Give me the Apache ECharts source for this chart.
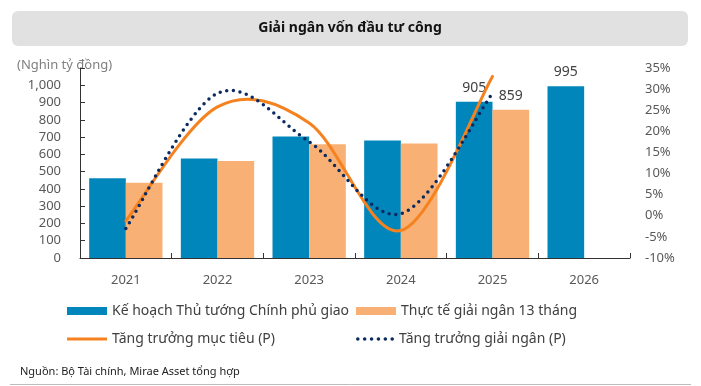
<!DOCTYPE html>
<html>
<head>
<meta charset="utf-8">
<script src="https://cdn.jsdelivr.net/npm/echarts@6/dist/echarts.min.js"></script>
<style>html,body{margin:0;padding:0;background:#fff;}#c{width:701px;height:386px;}</style>
</head>
<body>
<div id="c"></div>
<script>
const categories = ['2021', '2022', '2023', '2024', '2025', '2026'];
const planValues = [461, 576, 703, 680, 905, 995];
const actualValues = [435, 562, 659, 663, 859, null];
const targetGrowth = [-1.2, 25.8, 22, -3.5, 33, null];
const disburseGrowth = [-3, 29, 17.5, 0.5, 29, null];
const labelledYears = ['2025', '2026'];
const seriesNames = ['Kế hoạch Thủ tướng Chính phủ giao', 'Thực tế giải ngân 13 tháng', 'Tăng trưởng mục tiêu (P)', 'Tăng trưởng giải ngân (P)'];

const FONT = '"Noto Sans", "Open Sans", sans-serif';
const TXT = '#404040';
const ORANGE = '#F5821F';
const NAVY = '#0B2A5F';

function withLabels(arr) {
  return arr.map((v, i) => ({
    value: v,
    label: { show: labelledYears.includes(categories[i]) && v != null }
  }));
}

// Excel-style smoothed line (Catmull-Rom -> cubic Bezier), positioned through the axis scales
function smoothRenderer(values, style) {
  return function (params, api) {
    if (params.dataIndex !== 0) return null;
    const pts = [];
    values.forEach((v, i) => { if (v != null) pts.push(api.coord([i, v])); });
    if (pts.length < 2) return null;
    let d = 'M' + pts[0][0] + ',' + pts[0][1];
    for (let i = 0; i < pts.length - 1; i++) {
      const p0 = pts[Math.max(i - 1, 0)], p1 = pts[i], p2 = pts[i + 1], p3 = pts[Math.min(i + 2, pts.length - 1)];
      const c1x = p1[0] + (p2[0] - p0[0]) / 6, c1y = p1[1] + (p2[1] - p0[1]) / 6;
      const c2x = p2[0] - (p3[0] - p1[0]) / 6, c2y = p2[1] - (p3[1] - p1[1]) / 6;
      d += ' C' + c1x + ',' + c1y + ' ' + c2x + ',' + c2y + ' ' + p2[0] + ',' + p2[1];
    }
    return { type: 'path', shape: { pathData: d }, style: Object.assign({ fill: null }, style), silent: true };
  };
}

function dotsIcon(n, r, span) {
  let d = '';
  const step = (span - 2 * r) / (n - 1);
  for (let k = 0; k < n; k++) {
    const cx = r + k * step;
    d += 'M' + (cx - r) + ',' + r + ' a' + r + ',' + r + ' 0 1,0 ' + (2 * r) + ',0 a' + r + ',' + r + ' 0 1,0 ' + (-2 * r) + ',0 Z ';
  }
  return 'path://' + d;
}

const chart = echarts.init(document.getElementById('c'), null, { renderer: 'canvas' });
const legendBase = {
  itemWidth: 40, itemHeight: 8, itemGap: 4,
  textStyle: { fontFamily: FONT, fontSize: 14, color: TXT, lineHeight: 16 },
  padding: 0
};
chart.setOption({
  animation: false,
  textStyle: { fontFamily: FONT },
  graphic: [
    { type: 'rect', shape: { x: 12, y: 11, width: 676, height: 35, r: 6 }, style: { fill: '#e1e1e1' }, silent: true },
    { type: 'text', x: 350, y: 28.5, style: { text: 'Giải ngân vốn đầu tư công', font: 'bold 14px ' + FONT, fill: '#111', align: 'center', verticalAlign: 'middle' } },
    { type: 'text', x: 17, y: 65, style: { text: '(Nghìn tỷ đồng)', font: '13px ' + FONT, fill: '#808080', align: 'left', verticalAlign: 'middle' } },
    { type: 'text', x: 20, y: 372, style: { text: 'Nguồn: Bộ Tài chính, Mirae Asset tổng hợp', font: '11px ' + FONT, fill: '#222', align: 'left', verticalAlign: 'middle' } },
    { type: 'line', shape: { x1: 10, y1: 384.5, x2: 691, y2: 384.5 }, style: { stroke: '#bdbdbd', lineWidth: 1 } }
  ],
  grid: { left: 80, right: 71, top: 68, bottom: 128 },
  legend: [
    Object.assign({}, legendBase, { left: 67, top: 303, data: [{ name: seriesNames[0], icon: 'rect' }] }),
    Object.assign({}, legendBase, { left: 356, top: 303, data: [{ name: seriesNames[1], icon: 'rect' }] }),
    Object.assign({}, legendBase, { left: 67, top: 331, itemHeight: 3, data: [{ name: seriesNames[2], icon: 'rect' }] }),
    Object.assign({}, legendBase, { left: 356, top: 331, itemWidth: 38, itemHeight: 3.6, data: [{ name: seriesNames[3], icon: dotsIcon(6, 1.8, 38) }] })
  ],
  xAxis: {
    type: 'category',
    data: categories,
    axisLine: { show: true, lineStyle: { color: '#333', width: 1 } },
    axisTick: { show: true, inside: true, length: 5, lineStyle: { color: '#333' } },
    axisLabel: { color: '#595959', fontSize: 13, margin: 16, fontFamily: FONT },
    splitLine: { show: false }
  },
  yAxis: [
    {
      type: 'value', min: 0, max: 1100, interval: 100,
      axisLine: { show: true, lineStyle: { color: '#333', width: 1 } },
      axisTick: { show: true, inside: true, length: 5, lineStyle: { color: '#333' } },
      axisLabel: {
        color: '#595959', fontSize: 13, margin: 19, fontFamily: FONT,
        formatter: v => v === 1100 ? '' : v.toLocaleString('en-US')
      },
      splitLine: { show: false }
    },
    {
      type: 'value', min: -10, max: 35, interval: 5, position: 'right',
      axisLine: { show: false },
      axisTick: { show: false },
      axisLabel: { color: '#595959', fontSize: 13, margin: 15, fontFamily: FONT, formatter: '{value}%' },
      splitLine: { show: false }
    }
  ],
  series: [
    {
      name: seriesNames[0], type: 'bar', data: withLabels(planValues),
      barGap: '0%', barCategoryGap: '20%',
      itemStyle: { color: '#0086BA' },
      label: { position: 'top', distance: 7, color: TXT, fontSize: 14, fontFamily: FONT }
    },
    {
      name: seriesNames[1], type: 'bar', data: withLabels(actualValues),
      barGap: '0%', barCategoryGap: '20%',
      itemStyle: { color: '#F9B074' },
      label: { position: 'top', distance: 7, color: TXT, fontSize: 14, fontFamily: FONT }
    },
    {
      name: seriesNames[2], type: 'custom', yAxisIndex: 1,
      data: targetGrowth.map((v, i) => [i, v]),
      encode: { x: 0, y: 1 },
      itemStyle: { color: ORANGE },
      renderItem: smoothRenderer(targetGrowth, { stroke: ORANGE, lineWidth: 3, lineCap: 'round' }),
      z: 3
    },
    {
      name: seriesNames[3], type: 'custom', yAxisIndex: 1,
      data: disburseGrowth.map((v, i) => [i, v]),
      encode: { x: 0, y: 1 },
      itemStyle: { color: NAVY },
      renderItem: smoothRenderer(disburseGrowth, { stroke: NAVY, lineWidth: 3.5, lineCap: 'round', lineDash: [0, 6.7] }),
      z: 4
    }
  ]
});
</script>
</body>
</html>
